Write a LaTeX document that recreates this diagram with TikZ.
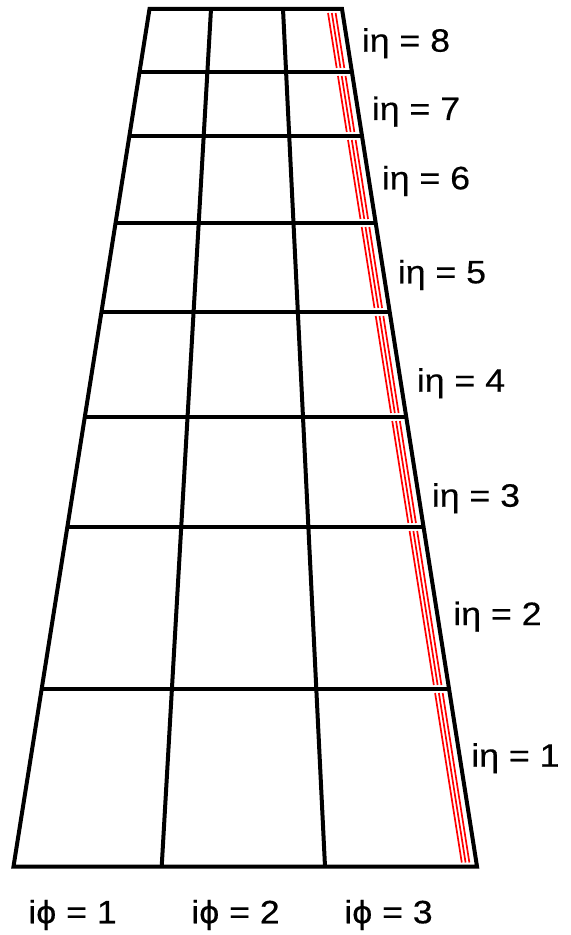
\documentclass[tikz,border=0pt]{standalone}
\usepackage{fontspec}
\setmainfont{Liberation Sans}[FakeStretch=1.1, FakeBold=0.4]
\usetikzlibrary{calc}

\begin{document}
\begin{tikzpicture}[
    x=0.5pt, y=-0.5pt,
    line join=miter,
    every node/.style={font=\fontsize{16.2}{19}\selectfont, inner sep=0pt},
    gridline/.style={line width=2pt},
    redtrack/.style={red, line width=0.85pt}
]

\useasboundingbox (0,0) rectangle (570,935);

% -----------------------------
% Corners of the trapezoid
% -----------------------------
\coordinate (tl) at (149.5,9);
\coordinate (tr) at (342,9);
\coordinate (br) at (477,866.5);
\coordinate (bl) at (13.5,866.5);

% -----------------------------
% Red triple lines along the right edge
% -----------------------------
\foreach \ya/\yb in {9/72, 72/136, 136/223, 223/312, 312/417, 417/527, 527/689, 689/866.5} {
  \foreach \dx in {7,10.8,14.6} {
    \draw[redtrack]
      ($(tr)!{(\ya+4-9)/857.5}!(br) + (-\dx,0)$) --
      ($(tr)!{(\yb-4-9)/857.5}!(br) + (-\dx,0)$);
  }
}

% -----------------------------
% Grid
% -----------------------------
\foreach \y in {72,136,223,312,417,527,689} {
  \draw[gridline]
    ($(tl)!{(\y-9)/857.5}!(bl)$) -- ($(tr)!{(\y-9)/857.5}!(br)$);
}

\draw[gridline] (211,9) -- (161.7,866.5);
\draw[gridline] (283,9) -- (325,866.5);

\draw[gridline] (tl) -- (tr) -- (br) -- (bl) -- cycle;

% -----------------------------
% Labels
% -----------------------------
\foreach \n/\x/\y in {8/361.5/51.7, 7/371.5/120, 6/381.5/189.3, 5/397.5/283.3,
                      4/416.5/391.7, 3/431.5/506.7, 2/453/625, 1/471/766.7} {
  \node[anchor=base west] (eta\n) at (\x,\y) {iη = \n};
}

\node[anchor=base west] (phi1) at (28,923.3) {iϕ = 1};
\node[anchor=base west] (phi2) at (191,923.3) {iϕ = 2};
\node[anchor=base west] (phi3) at (344,923.3) {iϕ = 3};

\end{tikzpicture}
\end{document}
